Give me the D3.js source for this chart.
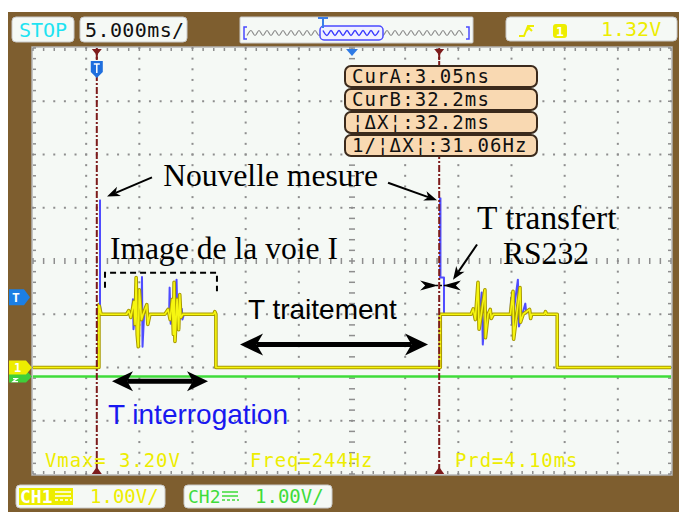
<!DOCTYPE html>
<html>
<head>
<meta charset="utf-8">
<script src="https://cdn.jsdelivr.net/npm/d3@7"></script>
<style>
  html, body { margin: 0; padding: 0; background: #fff; }
  svg { display: block; }
</style>
</head>
<body>
<div id="scope"></div>
<script>
// ---- data ----
const timeDomain = [-6, 54];     // ms, 5 ms/div, 12 div, trigger 1.2 div from the left
const voltDomain = [-2, 6];      // V, 1 V/div, 8 div, CH1 ground on div 2
const timePerDiv = 5, voltPerDiv = 1;

// CH1 (yellow) : [t ms, V]
const ch1Trace = [
  [-6, 0], [0.2, 0], [0.2, 1.18], [0.4, 1.0], [2.8, 1.0], [3.0, 1.07], [3.2, 0.94], [3.5, 1.24],
  [3.6, 0.81], [3.7, 1.69], [3.8, 0.62], [3.9, 0.39], [4.0, 1.46], [4.2, 0.9], [4.35, 1.0],
  [4.7, 1.18], [4.8, 0.81], [5.0, 1.0], [6.4, 1.0], [6.7, 1.09], [6.9, 0.9], [7.1, 1.28],
  [7.2, 0.62], [7.27, 1.6], [7.35, 0.49], [7.55, 1.28], [7.7, 0.71], [7.8, 1.37], [7.9, 0.94],
  [8.1, 1.0], [11.0, 1.0], [11.1, 1.05], [11.2, 1.0], [11.2, 0], [32.3, 0], [32.3, 1.0],
  [35.2, 1.0], [35.4, 1.1], [35.6, 0.9], [35.85, 1.6], [35.95, 0.72], [36.5, 1.46], [36.55, 0.56],
  [36.8, 1.0], [37.0, 1.09], [37.1, 0.92], [37.3, 1.0], [38.9, 1.0], [39.14, 1.43], [39.2, 0.53],
  [39.8, 1.5], [39.85, 0.85], [40.1, 1.0], [40.7, 1.09], [40.8, 0.92], [40.9, 1.0], [42.1, 1.0],
  [42.2, 1.05], [42.3, 1.0], [43.3, 1.0], [43.3, 0], [54, 0]
];
// blue trace, only the parts that show above the yellow one
const blueTrace = [
  [[0.3, 3.15], [0.3, 1.18], [0.4, 1.0]],
  [[3.3, 1.0], [3.4, 1.28], [3.45, 0.72], [3.6, 1.0], [4.2, 1.0], [4.25, 1.7], [4.3, 0.39], [4.45, 1.0]],
  [[6.8, 1.0], [6.85, 1.5], [6.95, 0.82], [7.5, 1.65], [7.6, 0.77], [8.0, 1.1], [8.05, 0.9], [8.2, 1.0]],
  [[32.3, 3.19], [32.3, 1.69], [32.65, 1.69], [32.65, 1.0]],
  [[36.0, 1.0], [36.2, 1.41], [36.3, 0.43], [36.5, 1.0]],
  [[38.9, 1.0], [38.96, 1.31], [39.05, 0.81], [39.6, 1.65], [39.7, 0.77], [40.3, 1.2], [40.4, 1.0]]
];
const ch2Offset = -0.17;         // CH2 marker sits a bit under CH1
const ch2Trace = [[-6, 0], [54, 0]];
const cursorTimes = [0, 32.2];
const triggerLevel = 1.32;
const readouts = ["CurA:3.05ns", "CurB:32.2ms", "¦ΔX¦:32.2ms", "1/¦ΔX¦:31.06Hz"];
const measures = ["Vmax= 3.20V", "Freq=244Hz", "Prd=4.10ms"];

// ---- layout ----
const W = 679, H = 512;
const svg = d3.select("#scope").append("svg").attr("width", W).attr("height", H);
const x = d3.scaleLinear().domain(timeDomain).range([33, 671]);
const y = d3.scaleLinear().domain(voltDomain).range([474, 48]);
const mono = "'DejaVu Sans Mono', monospace";

svg.append("rect").attr("x", 8).attr("y", 12).attr("width", W - 8).attr("height", H - 12).attr("fill", "#7e5e2f");
svg.append("rect").attr("x", x(timeDomain[0]) - 1).attr("y", y(voltDomain[1]) - 1)
  .attr("width", x(timeDomain[1]) - x(timeDomain[0]) + 2).attr("height", y(voltDomain[0]) - y(voltDomain[1]) + 2)
  .attr("fill", "#f5f9f5").attr("stroke", "#b4b4b4").attr("stroke-width", 1.5);

// grid
const grid = svg.append("g").attr("fill", "#8e8e8e");
const majT = d3.range(timeDomain[0], timeDomain[1] + 0.01, timePerDiv);
const majV = d3.range(voltDomain[0], voltDomain[1] + 0.01, voltPerDiv);
const minT = d3.range(timeDomain[0], timeDomain[1] + 0.01, timePerDiv / 5);
const minV = d3.range(voltDomain[0], voltDomain[1] + 0.01, voltPerDiv / 5);
const midT = majT[6], midV = majV[4];
majT.slice(1, -1).forEach(t => {
  if (t === midT) return;
  minV.forEach(v => grid.append("rect").attr("x", x(t) - 1).attr("y", y(v) - 1).attr("width", 2).attr("height", 2));
});
majV.slice(1, -1).forEach(v => {
  if (v === midV) return;
  minT.forEach(t => grid.append("rect").attr("x", x(t) - 1).attr("y", y(v) - 1).attr("width", 2).attr("height", 2));
});
const ticks = svg.append("g").attr("stroke", "#8e8e8e").attr("stroke-width", 1.5);
minV.forEach(v => {
  ticks.append("line").attr("x1", x(midT) - 3).attr("x2", x(midT) + 3).attr("y1", y(v)).attr("y2", y(v));
  ticks.append("line").attr("x1", x(timeDomain[0])).attr("x2", x(timeDomain[0]) + 3).attr("y1", y(v)).attr("y2", y(v));
  ticks.append("line").attr("x1", x(timeDomain[1]) - 3).attr("x2", x(timeDomain[1])).attr("y1", y(v)).attr("y2", y(v));
});
minT.forEach(t => {
  ticks.append("line").attr("x1", x(t)).attr("x2", x(t)).attr("y1", y(midV) - 3).attr("y2", y(midV) + 3);
  ticks.append("line").attr("x1", x(t)).attr("x2", x(t)).attr("y1", y(voltDomain[1])).attr("y2", y(voltDomain[1]) + 3);
  ticks.append("line").attr("x1", x(t)).attr("x2", x(t)).attr("y1", y(voltDomain[0]) - 3).attr("y2", y(voltDomain[0]));
});

// traces
svg.append("clipPath").attr("id", "screen").append("rect")
  .attr("x", x(timeDomain[0])).attr("y", y(voltDomain[1]))
  .attr("width", x(timeDomain[1]) - x(timeDomain[0])).attr("height", y(voltDomain[0]) - y(voltDomain[1]));
const tr = svg.append("g").attr("clip-path", "url(#screen)").attr("fill", "none").attr("stroke-linejoin", "round");
const line = d3.line().x(d => x(d[0])).y(d => y(d[1]));
const line2 = d3.line().x(d => x(d[0])).y(d => y(d[1] + ch2Offset));
tr.append("path").attr("d", line2(ch2Trace)).attr("stroke", "#3fdc3a").attr("stroke-width", 2.5);

// cursors
cursorTimes.forEach(t => {
  svg.append("line").attr("x1", x(t)).attr("x2", x(t)).attr("y1", y(voltDomain[1])).attr("y2", y(voltDomain[0]))
    .attr("stroke", "#7d1c1c").attr("stroke-width", 2).attr("stroke-dasharray", "7,2,2,2");
});

blueTrace.forEach(seg => tr.append("path").attr("d", line(seg)).attr("stroke", "#4f4cff").attr("stroke-width", 2));
tr.append("path").attr("d", line(ch1Trace)).attr("stroke", "#a89a00").attr("stroke-width", 3.6);
tr.append("path").attr("d", line(ch1Trace)).attr("stroke", "#f6f610").attr("stroke-width", 1.6);
// blue spikes drawn on top
[blueTrace[0], blueTrace[3]].forEach(seg => tr.append("path").attr("d", line(seg.slice(0, 2))).attr("stroke", "#4f4cff").attr("stroke-width", 2));

// cursor markers top/bottom
cursorTimes.forEach(t => {
  const cx = x(t);
  svg.append("path").attr("d", `M${cx - 5},49 L${cx + 5},49 L${cx + 1},54 L${cx + 1},60 L${cx - 1},60 L${cx - 1},54 Z`).attr("fill", "#7d1c1c");
  svg.append("path").attr("d", `M${cx - 5},474 L${cx + 5},474 L${cx},467 Z`).attr("fill", "#7d1c1c");
});
const tx0 = x(cursorTimes[0]);
svg.append("path").attr("d", `M${tx0 - 6},61 h12 v11 l-6,6 l-6,-6 Z`).attr("fill", "#1f6fde");
svg.append("path").attr("d", `M${tx0 - 3},64 h6 M${tx0},64 v9`).attr("stroke", "#fff").attr("stroke-width", 1.5);
svg.append("path").attr("d", `M${x(midT) - 6},49 L${x(midT) + 6},49 L${x(midT)},56 Z`).attr("fill", "#2f7be6");

// left markers
const yT = y(triggerLevel), y1 = y(0), y2 = y(ch2Offset);
svg.append("path").attr("d", `M9,${y2 - 6} h17 l6,6 l-6,6 h-17 Z`).attr("fill", "#3fcf3a");
svg.append("path").attr("d", `M13,${y2 + 2} h4 l-4,3 h5`).attr("fill", "none").attr("stroke", "#fff").attr("stroke-width", 1.3);
svg.append("path").attr("d", `M9,${y1 - 7} h17 l6,7 l-6,7 h-17 Z`).attr("fill", "#eded00");
svg.append("text").attr("x", 14).attr("y", y1 + 4).attr("fill", "#fff").attr("font-family", mono).attr("font-size", 12).attr("font-weight", "bold").text("1");
svg.append("path").attr("d", `M9,${yT - 8} h15 l6,8 l-6,8 h-15 Z`).attr("fill", "#1c7fe4");
svg.append("text").attr("x", 12).attr("y", yT + 5).attr("fill", "#fff").attr("font-family", mono).attr("font-size", 13).attr("font-weight", "bold").text("T");

// top bar
function box(bx, by, bw, bh) {
  return svg.append("rect").attr("x", bx).attr("y", by).attr("width", bw).attr("height", bh).attr("rx", 4)
    .attr("fill", "#f5f9f5").attr("stroke", "#c9c9c9");
}
box(12, 17, 62, 25);
svg.append("text").attr("x", 19).attr("y", 37).attr("fill", "#1ee3f2").attr("font-family", mono).attr("font-size", 20).text("STOP");
box(80, 17, 107, 25);
svg.append("text").attr("x", 85).attr("y", 37).attr("fill", "#111").attr("font-family", mono).attr("font-size", 20).attr("letter-spacing", 0.4).text("5.000ms/");
box(240, 17, 233, 26).attr("rx", 1);
const wave = d3.range(247, 466, 4).map((px, i) => [px, 33 + (i % 2 ? -2.5 : 2.5)]);
svg.append("path").attr("d", d3.line().curve(d3.curveCatmullRom)(wave)).attr("fill", "none").attr("stroke", "#8a8a8a").attr("stroke-width", 1.2);
svg.append("rect").attr("x", 320).attr("y", 26).attr("width", 63).attr("height", 14).attr("rx", 4).attr("fill", "#f0f0ff").attr("stroke", "#4a4aff").attr("stroke-width", 1.5);
svg.append("path").attr("d", d3.line().curve(d3.curveCatmullRom)(wave.filter(d => d[0] > 322 && d[0] < 382))).attr("fill", "none").attr("stroke", "#3a3aff").attr("stroke-width", 1.5);
svg.append("path").attr("d", "M247,27 h-3 v12 h3 M466,27 h3 v12 h-3").attr("fill", "none").attr("stroke", "#4a4aff").attr("stroke-width", 1.5);
svg.append("path").attr("d", "M318,18 h10 M323,18 v10").attr("stroke", "#3a7de8").attr("stroke-width", 2);
box(506, 17, 171, 24);
svg.append("path").attr("d", "M519,36 h5 l4,-10 h6 M526,31 l3,-3 l3,3").attr("fill", "none").attr("stroke", "#eded00").attr("stroke-width", 2);
svg.append("rect").attr("x", 553).attr("y", 24).attr("width", 14).attr("height", 14).attr("rx", 3).attr("fill", "#eded00");
svg.append("text").attr("x", 556).attr("y", 36).attr("fill", "#fff").attr("font-family", mono).attr("font-size", 13).attr("font-weight", "bold").text("1");
svg.append("text").attr("x", 601).attr("y", 36).attr("fill", "#eded00").attr("font-family", mono).attr("font-size", 20).text("1.32V");

// cursor readouts
readouts.forEach((s, i) => {
  const by = 66 + i * 23;
  svg.append("rect").attr("x", 345).attr("y", by).attr("width", 192).attr("height", 21).attr("rx", 6)
    .attr("fill", "#f9d9b2").attr("stroke", "#3b2a1c").attr("stroke-width", 2);
  svg.append("text").attr("x", 352).attr("y", by + 17).attr("fill", "#111").attr("font-family", mono)
    .attr("font-size", 19).attr("letter-spacing", 1.1).text(s);
});

// measurements
[45, 250, 455].forEach((mx, i) => {
  svg.append("text").attr("x", mx).attr("y", 467).attr("fill", "#eded00").attr("font-family", mono)
    .attr("font-size", 19).attr("letter-spacing", 0.9).text(measures[i]);
});

// bottom channel boxes
box(16, 485, 149, 23);
svg.append("rect").attr("x", 19).attr("y", 488).attr("width", 54).attr("height", 17).attr("fill", "#eded00");
svg.append("text").attr("x", 20).attr("y", 503).attr("fill", "#fff").attr("font-family", mono).attr("font-size", 18).attr("font-weight", "bold").text("CH1");
svg.append("path").attr("d", "M55,492 h16 M55,496 h16 M55,500 h3 M60,500 h3 M65,500 h3 M70,500 h2").attr("stroke", "#fff").attr("stroke-width", 1.5);
svg.append("text").attr("x", 90).attr("y", 503).attr("fill", "#eded00").attr("font-family", mono).attr("font-size", 19).text("1.00V/");
box(184, 485, 148, 23);
svg.append("text").attr("x", 188).attr("y", 503).attr("fill", "#3fdc3a").attr("font-family", mono).attr("font-size", 18).text("CH2");
svg.append("path").attr("d", "M222,492 h16 M222,496 h16 M222,500 h3 M227,500 h3 M232,500 h3 M237,500 h2").attr("stroke", "#3fdc3a").attr("stroke-width", 1.5);
svg.append("text").attr("x", 255).attr("y", 503).attr("fill", "#3fdc3a").attr("font-family", mono).attr("font-size", 19).text("1.00V/");

// ---- annotations (data units) ----
const ann = svg.append("g");
function head(tx, ty, ang, len, hw) {
  const c = Math.cos(ang), s = Math.sin(ang);
  const pt = (a, b) => [tx + a * c - b * s, ty + a * s + b * c];
  ann.append("path").attr("d", "M" + [pt(0, 0), pt(-len, -hw), pt(-len * 0.72, 0), pt(-len, hw)].join("L") + "Z").attr("fill", "#000");
  return pt(-len * 0.72, 0);
}
function arrow(t0, v0, t1, v1, len, hw, sw) {
  const ax = x(t0), ay = y(v0), bx = x(t1), by = y(v1);
  const ang = Math.atan2(by - ay, bx - ax);
  const e = head(bx, by, ang, len, hw);
  ann.append("line").attr("x1", ax).attr("y1", ay).attr("x2", e[0]).attr("y2", e[1]).attr("stroke", "#000").attr("stroke-width", sw);
}
function dblArrow(t0, t1, v, len, hw, sw) {
  const ay = y(v);
  const a = head(x(t0), ay, Math.PI, len, hw);
  const b = head(x(t1), ay, 0, len, hw);
  ann.append("line").attr("x1", a[0]).attr("y1", ay).attr("x2", b[0]).attr("y2", ay).attr("stroke", "#000").attr("stroke-width", sw);
}
const serif = "'Liberation Serif', 'Times New Roman', serif";
const sans = "'Liberation Sans', Arial, sans-serif";
function label(t, v, txt, fam, size, col) {
  ann.append("text").attr("x", x(t)).attr("y", y(v)).attr("font-family", fam).attr("font-size", size).attr("fill", col || "#000").text(txt);
}

label(6.24, 3.40, "Nouvelle mesure", serif, 31.6);
arrow(5.19, 3.57, 0.96, 3.21, 13, 5, 2);
arrow(27.39, 3.47, 32.0, 3.14, 13, 5, 2);
label(1.24, 2.03, "Image de la voie I", serif, 31.6);
ann.append("path").attr("d", `M${x(0.77)},${y(1.5)} V${y(1.78)} H${x(11.3)} V${y(1.43)}`)
  .attr("fill", "none").attr("stroke", "#000").attr("stroke-width", 2).attr("stroke-dasharray", "6,4");
label(35.76, 2.61, "T transfert", serif, 33.4);
label(38.2, 1.95, "RS232", serif, 31.6);
arrow(35.76, 2.31, 33.5, 1.65, 13, 5, 2);
head(x(32.1), y(1.54), 0, 18, 5);
head(x(32.55), y(1.54), Math.PI, 18, 5);
ann.append("line").attr("x1", x(31.9)).attr("x2", x(32.8)).attr("y1", y(1.54)).attr("y2", y(1.54)).attr("stroke", "#000").attr("stroke-width", 1.5).attr("stroke-dasharray", "2,2");
label(14.22, 0.92, "T traitement", sans, 28);
dblArrow(13.47, 31.15, 0.43, 23, 11, 5);
dblArrow(1.43, 10.46, -0.26, 21, 10, 5);
label(1.05, -1.07, "T interrogation", sans, 28, "#1818f0");
</script>
</body>
</html>
